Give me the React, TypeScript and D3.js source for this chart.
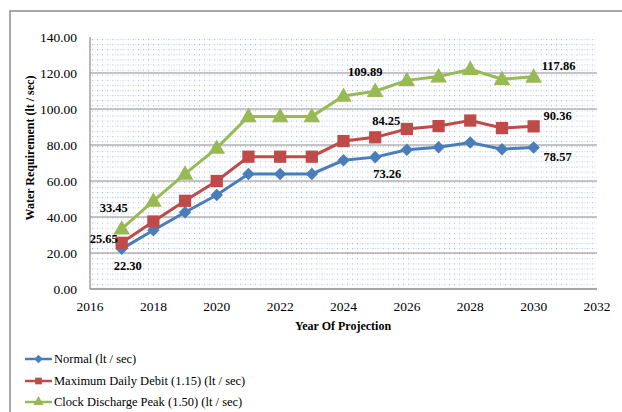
import React, { useEffect, useRef } from "react";
import * as d3 from "d3";

const years = [2017, 2018, 2019, 2020, 2021, 2022, 2023, 2024, 2025, 2026, 2027, 2028, 2029, 2030];
const normal = [22.3, 32.6, 42.6, 52.2, 63.9, 63.9, 63.9, 71.5, 73.26, 77.3, 78.7, 81.4, 77.7, 78.57];
const maxDaily = [25.65, 37.5, 49.0, 60.0, 73.5, 73.5, 73.5, 82.2, 84.25, 88.9, 90.5, 93.6, 89.4, 90.36];
const clockPeak = [33.45, 48.9, 63.9, 78.3, 95.9, 95.9, 95.9, 107.2, 109.89, 115.9, 118.0, 122.1, 116.6, 117.86];
const xTicks = [2016, 2018, 2020, 2022, 2024, 2026, 2028, 2030, 2032];
const yTicks = [0, 20, 40, 60, 80, 100, 120, 140];

const seriesNames = [
  "Normal (lt / sec)",
  "Maximum Daily Debit (1.15) (lt / sec)",
  "Clock Discharge Peak (1.50) (lt / sec)",
];
const seriesColors = ["#4a7ebb", "#be4b48", "#98b954"];

// labelled points: [series, index, dx, dy]
const valueLabels: [number, number, number, number][] = [
  [0, 0, 6, 17],
  [1, 0, -18, -4],
  [2, 0, -8, -21],
  [0, 8, 12, 16],
  [1, 8, 11, -17],
  [2, 8, -10, -20],
  [0, 13, 24, 9],
  [1, 13, 24, -11],
  [2, 13, 25, -11],
];

const W = 622;
const H = 412;
const font = "'Liberation Serif', 'Times New Roman', serif";

const App = () => {
  const ref = useRef<SVGSVGElement>(null);

  useEffect(() => {
    const svg = d3.select(ref.current);
    svg.selectAll("*").remove();

    const left = 90, right = 597, top = 37, bottom = 289;
    const x = d3.scaleLinear().domain([2016, 2032]).range([left, right]);
    const y = d3.scaleLinear().domain([0, 140]).range([bottom, top]);
    const data = [normal, maxDaily, clockPeak];

    // outer frame (clipped by the window)
    svg.append("rect")
      .attr("x", 10).attr("y", 11)
      .attr("width", 640).attr("height", 440)
      .attr("fill", "white").attr("stroke", "#8c8c8c").attr("stroke-width", 1.5);

    // dotted pattern of the plot area
    const pat = svg.append("defs").append("pattern")
      .attr("id", "dots").attr("patternUnits", "userSpaceOnUse")
      .attr("x", left + 2).attr("y", top + 2)
      .attr("width", 5.1).attr("height", 5.1);
    pat.append("rect").attr("width", 1).attr("height", 1.1).attr("fill", "#9bb5dc");
    pat.append("rect").attr("x", 2.6).attr("width", 1).attr("height", 1).attr("fill", "#d2ddef");

    svg.append("rect")
      .attr("x", left).attr("y", top)
      .attr("width", right - left).attr("height", bottom - top)
      .attr("fill", "url(#dots)");

    // major gridlines
    svg.append("g").selectAll("line")
      .data(yTicks.filter((t) => t > 0 && t < 140))
      .join("line")
      .attr("x1", left).attr("x2", right)
      .attr("y1", (d) => y(d)).attr("y2", (d) => y(d))
      .attr("stroke", "#8a8a8a").attr("stroke-width", 1);

    // axes lines
    svg.append("line").attr("x1", left).attr("x2", left).attr("y1", top).attr("y2", bottom)
      .attr("stroke", "#8a8a8a").attr("stroke-width", 1.2);
    svg.append("line").attr("x1", left).attr("x2", right).attr("y1", bottom).attr("y2", bottom)
      .attr("stroke", "#8a8a8a").attr("stroke-width", 1.5);

    // tick labels
    svg.append("g").selectAll("text")
      .data(yTicks).join("text")
      .attr("x", 77).attr("y", (d) => y(d))
      .attr("dy", "0.35em").attr("text-anchor", "end")
      .attr("font-family", font).attr("font-size", 13.5)
      .text((d) => d3.format(".2f")(d));

    svg.append("g").selectAll("text")
      .data(xTicks).join("text")
      .attr("x", (d) => x(d)).attr("y", 306)
      .attr("dy", "0.35em").attr("text-anchor", "middle")
      .attr("font-family", font).attr("font-size", 13.5)
      .text((d) => String(d));

    // axis titles
    svg.append("text")
      .attr("transform", `translate(30, 148) rotate(-90)`)
      .attr("text-anchor", "middle").attr("dy", "0.35em")
      .attr("font-family", font).attr("font-size", 12).attr("font-weight", "bold")
      .text("Water Requirement (lt / sec)");
    svg.append("text")
      .attr("x", 343).attr("y", 326).attr("dy", "0.35em")
      .attr("text-anchor", "middle")
      .attr("font-family", font).attr("font-size", 12).attr("font-weight", "bold")
      .text("Year Of Projection");

    const symbols = [
      d3.symbol().type(d3.symbolDiamond2).size(100),
      d3.symbol().type(d3.symbolSquare).size(150),
      d3.symbol().type(d3.symbolTriangle).size(120),
    ];

    const line = d3.line<number>().x((_, i) => x(years[i])).y((d) => y(d));

    data.forEach((vals, s) => {
      const g = svg.append("g");
      g.append("path").attr("d", line(vals))
        .attr("fill", "none").attr("stroke", seriesColors[s]).attr("stroke-width", 3);
      g.selectAll("path.pt").data(vals).join("path")
        .attr("class", "pt")
        .attr("transform", (d, i) => `translate(${x(years[i])}, ${y(d) + (s === 2 ? 1 : 0)})`)
        .attr("d", symbols[s]())
        .attr("fill", seriesColors[s]);
    });

    // value labels
    svg.append("g").selectAll("text")
      .data(valueLabels).join("text")
      .attr("x", (d) => x(years[d[1]]) + d[2])
      .attr("y", (d) => y(data[d[0]][d[1]]) + d[3])
      .attr("dy", "0.35em").attr("text-anchor", "middle")
      .attr("font-family", font).attr("font-size", 12.5).attr("font-weight", "bold")
      .text((d) => d3.format(".2f")(data[d[0]][d[1]]));

    // legend
    const lg = svg.append("g");
    const rowY = [359, 381, 402];
    seriesNames.forEach((name, s) => {
      lg.append("line").attr("x1", 25).attr("x2", 52).attr("y1", rowY[s]).attr("y2", rowY[s])
        .attr("stroke", seriesColors[s]).attr("stroke-width", 2.5);
      lg.append("path")
        .attr("transform", `translate(38.5, ${rowY[s]})`)
        .attr("d", d3.symbol().type([d3.symbolDiamond2, d3.symbolSquare, d3.symbolTriangle][s]).size(45)())
        .attr("fill", seriesColors[s]);
      lg.append("text")
        .attr("x", 54).attr("y", rowY[s]).attr("dy", "0.35em")
        .attr("font-family", font).attr("font-size", 12.5)
        .text(name);
    });

    return () => {
      svg.selectAll("*").remove();
    };
  }, []);

  return (
    <div style={{ position: "absolute", left: 0, top: 0 }}>
      <svg ref={ref} width={W} height={H} style={{ display: "block" }}></svg>
    </div>
  );
};

export default App;
